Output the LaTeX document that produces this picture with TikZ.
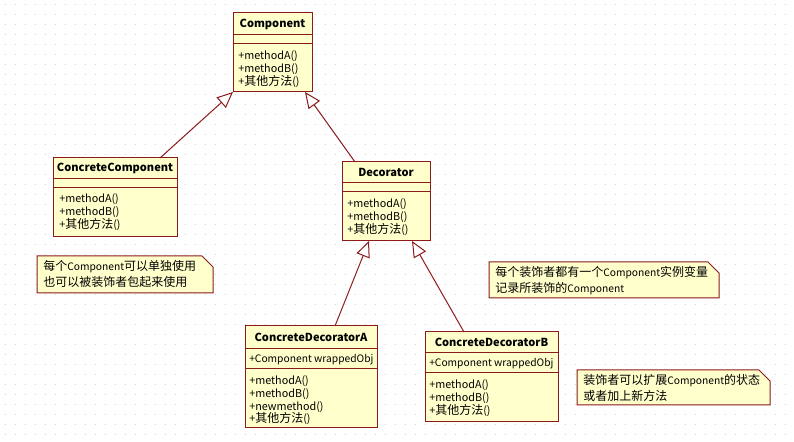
\documentclass[tikz,border=0pt]{standalone}
\usepackage{fontspec}
\setmainfont{Noto Sans CJK SC}
\usetikzlibrary{calc,arrows.meta,fit}
\definecolor{boxfill}{HTML}{FFFFCC}
\definecolor{boxline}{HTML}{8B1A1A}
\definecolor{gridc}{HTML}{D2D2DC}
\newcommand\zh[1]{{\fontsize{9}{10}\selectfont #1}}
\tikzset{
 classbox/.style={draw=boxline, fill=boxfill, line width=0.75pt, inner sep=0pt, outer sep=0pt},
 sepline/.style={draw=boxline, line width=0.75pt},
 ctitle/.style={font=\fontsize{8.3}{10}\selectfont\bfseries, inner sep=0pt},
 member/.style={font=\fontsize{8.1}{10}\selectfont, inner sep=0pt, anchor=base west},
 attr/.style={member, font=\fontsize{7.7}{10}\selectfont},
 notebox/.style={draw=boxline, fill=boxfill, line width=0.75pt},
 inh/.style={draw=boxline, line width=0.75pt, -{Triangle[length=12pt,width=10.5pt,fill=white]}},
}
\newcommand\mkclass[8]{%
 \node[classbox, fit={(#2,#3)(#4,#5)}] (#1) {};
 \draw[sepline] (#2,#6) -- (#4,#6);
 \draw[sepline] (#2,#7) -- (#4,#7);
 \node[ctitle] (#1-title) at ({(#2+#4)/2},{(#3+#6)/2}) {#8};
}
\newcommand\mkmembers[4]{%
 \foreach \t [count=\i] in {#4} {\node[member] (#1-m\i) at (#2,{#3+(\i-1)*12.6}) {\t};}
}
\newcommand\mknote[7]{%
 \path[notebox] (#2,#3) -- ({#4-11},#3) -- (#4,{#3+11}) -- (#4,#5) -- (#2,#5) -- cycle;
 \node[attr] (#1-l1) at ({#2+6},{#3+15}) {#6};
 \node[attr] (#1-l2) at ({#2+6},{#3+31}) {#7};
}
\begin{document}
\begin{tikzpicture}[x=0.75pt,y=-0.75pt]
\useasboundingbox (0,0) rectangle (794,442);
\fill[white] (0,0) rectangle (794,442);
\foreach \y in {5,15,...,435} {\draw[gridc, line width=0.75pt, dash pattern=on 0.75pt off 6.75pt] (4.5,\y) -- (794,\y);}

% classes
\mkclass{comp}{233}{13}{312}{92}{35}{44}{Component}
\mkmembers{comp}{238}{60}{+methodA(),+methodB(),+\zh{其他方法}()}

\mkclass{cc}{53}{158}{177}{237}{179}{188}{ConcreteComponent}
\mkmembers{cc}{59}{203}{+methodA(),+methodB(),+\zh{其他方法}()}

\mkclass{dec}{342}{162}{430}{241}{183}{192}{Decorator}
\mkmembers{dec}{347}{208}{+methodA(),+methodB(),+\zh{其他方法}()}

\mkclass{da}{245}{326}{377}{428}{349}{369}{ConcreteDecoratorA}
\node[attr] (da-attr) at (249,363) {+Component wrappedObj};
\mkmembers{da}{249}{385}{+methodA(),+methodB(),+newmethod(),+\zh{其他方法}()}

\mkclass{db}{425}{332}{558}{422}{353}{373}{ConcreteDecoratorB}
\node[attr] (db-attr) at (429,367) {+Component wrappedObj};
\mkmembers{db}{429}{389}{+methodA(),+methodB(),+\zh{其他方法}()}

% inheritance
\draw[inh] ($(cc.north west)+(107,0)$) -- (comp.south west);
\draw[inh] ($(dec.north west)+(13,0)$) -- ($(comp.south east)+(-7,0)$);
\draw[inh] ($(da.north west)+(90,0)$) -- ($(dec.south west)+(27,0)$);
\draw[inh] ($(db.north west)+(39,0)$) -- ($(dec.south west)+(70,0)$);

% notes
\mknote{n1}{37}{256}{213}{293}{\zh{每个}Component\zh{可以单独使用}}{\zh{也可以被装饰者包起来使用}}
\mknote{n2}{489}{262}{719}{298}{\zh{每个装饰者都有一个}Component\zh{实例变量}}{\zh{记录所装饰的}Component}
\mknote{n3}{577}{370}{770}{405}{\zh{装饰者可以扩展}Component\zh{的状态}}{\zh{或者加上新方法}}
\end{tikzpicture}
\end{document}
